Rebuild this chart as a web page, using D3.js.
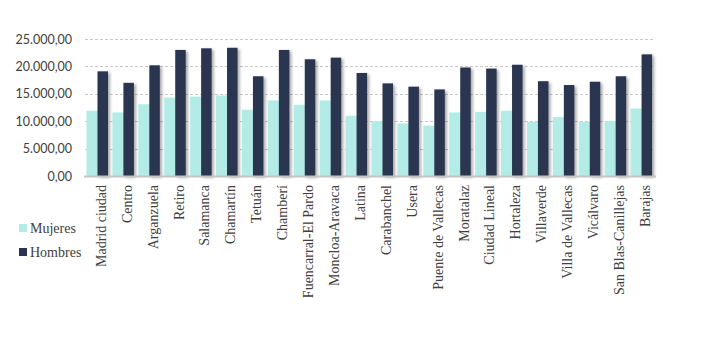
<!DOCTYPE html>
<html>
<head>
<meta charset="utf-8">
<script src="https://cdn.jsdelivr.net/npm/d3@7"></script>
<style>
  html, body { margin: 0; padding: 0; background: #ffffff; }
  svg { display: block; }
</style>
</head>
<body>
<svg id="chart" width="715" height="347"></svg>
<script>
// Distritos de Madrid: renta por sexo
const categories = [
  "Madrid ciudad", "Centro", "Arganzuela", "Retiro", "Salamanca", "Chamartín",
  "Tetuán", "Chamberí", "Fuencarral-El Pardo", "Moncloa-Aravaca", "Latina",
  "Carabanchel", "Usera", "Puente de Vallecas", "Moratalaz", "Ciudad Lineal",
  "Hortaleza", "Villaverde", "Villa de Vallecas", "Vicálvaro",
  "San Blas-Canillejas", "Barajas"
];
const mujeres = [
  11900, 11600, 13100, 14300, 14500, 14700,
  12100, 13800, 13000, 13800, 11000,
  10000, 9600, 9200, 11600, 11700,
  11900, 9900, 10750, 9900,
  10000, 12300
];
const hombres = [
  19100, 17000, 20200, 23000, 23300, 23400,
  18200, 23000, 21300, 21600, 18800,
  16900, 16300, 15800, 19800, 19600,
  20300, 17300, 16600, 17200,
  18200, 22200
];
const yTicks = [0, 5000, 10000, 15000, 20000, 25000];
const seriesNames = ["Mujeres", "Hombres"];

const colors = { Mujeres: "#b3ece6", Hombres: "#2b3550" };
const fmt = d3.formatLocale({ decimal: ",", thousands: ".", grouping: [3], currency: ["", "€"] }).format(",.2f");

const svg = d3.select("#chart");

const defs = svg.append("defs");
const shadow = defs.append("filter").attr("id", "barShadow")
  .attr("x", "-30%").attr("y", "-10%").attr("width", "180%").attr("height", "130%");
shadow.append("feDropShadow")
  .attr("dx", 2).attr("dy", 1.5).attr("stdDeviation", 1.4)
  .attr("flood-color", "#000").attr("flood-opacity", 0.35);

const x = d3.scaleBand().domain(categories).range([85, 655]).paddingInner(0).paddingOuter(0);
const y = d3.scaleLinear().domain([0, 25000]).range([176, 39]);

// gridlines
svg.append("g").selectAll("line").data(yTicks.filter(d => d > 0)).join("line")
  .attr("x1", 85).attr("x2", 655)
  .attr("y1", d => Math.round(y(d)) + 0.5).attr("y2", d => Math.round(y(d)) + 0.5)
  .attr("stroke", "#c9c9c9").attr("stroke-width", 1).attr("stroke-dasharray", "3,2");

// y axis labels
const yAxis = d3.axisLeft(y).tickValues(yTicks).tickFormat(fmt).tickSize(0).tickPadding(0);
const gy = svg.append("g").attr("transform", "translate(72,0)").call(yAxis);
gy.select(".domain").remove();
gy.selectAll("text")
  .attr("fill", "#404040")
  .style("font-family", "Lato, 'Open Sans', sans-serif")
  .style("font-size", "12.5px");

const groups = svg.append("g").selectAll("g").data(categories).join("g")
  .attr("transform", d => `translate(${x(d)},0)`);

// Mujeres (wide light bar behind)
groups.append("rect")
  .attr("x", 1.5).attr("width", 21)
  .attr("y", (d, i) => y(mujeres[i]))
  .attr("height", (d, i) => y(0) - y(mujeres[i]))
  .attr("fill", colors.Mujeres);

// Hombres (narrow dark bar in front)
groups.append("rect")
  .attr("x", 12.5).attr("width", 10.5)
  .attr("y", (d, i) => y(hombres[i]))
  .attr("height", (d, i) => y(0) - y(hombres[i]))
  .attr("fill", colors.Hombres)
  .attr("filter", "url(#barShadow)");

// baseline
svg.append("line")
  .attr("x1", 84).attr("x2", 656)
  .attr("y1", y(0) + 0.5).attr("y2", y(0) + 0.5)
  .attr("stroke", "#c4c4c4").attr("stroke-width", 2);

// x axis labels (rotated)
const xAxis = d3.axisBottom(x).tickSize(0).tickPadding(0);
const gx = svg.append("g").attr("transform", `translate(0,${y(0) + 9})`).call(xAxis);
gx.select(".domain").remove();
gx.selectAll("text")
  .attr("x", 0).attr("y", 0).attr("dy", "0.35em").attr("dx", 0)
  .attr("transform", "translate(3,0) rotate(-90)")
  .style("text-anchor", "end")
  .attr("fill", "#404040")
  .style("font-family", "'Liberation Serif', 'DejaVu Serif', serif")
  .style("font-size", "14px");

// legend
const legend = svg.append("g").selectAll("g").data(seriesNames).join("g")
  .attr("transform", (d, i) => `translate(19,${228 + i * 24})`);
legend.append("rect")
  .attr("x", 0).attr("y", -4).attr("width", 8).attr("height", 8)
  .attr("fill", d => colors[d]);
legend.append("text")
  .attr("x", 11).attr("y", 0).attr("dy", "0.35em")
  .attr("fill", "#404040")
  .style("font-family", "'Liberation Serif', 'DejaVu Serif', serif")
  .style("font-size", "14px")
  .text(d => d);
</script>
</body>
</html>
